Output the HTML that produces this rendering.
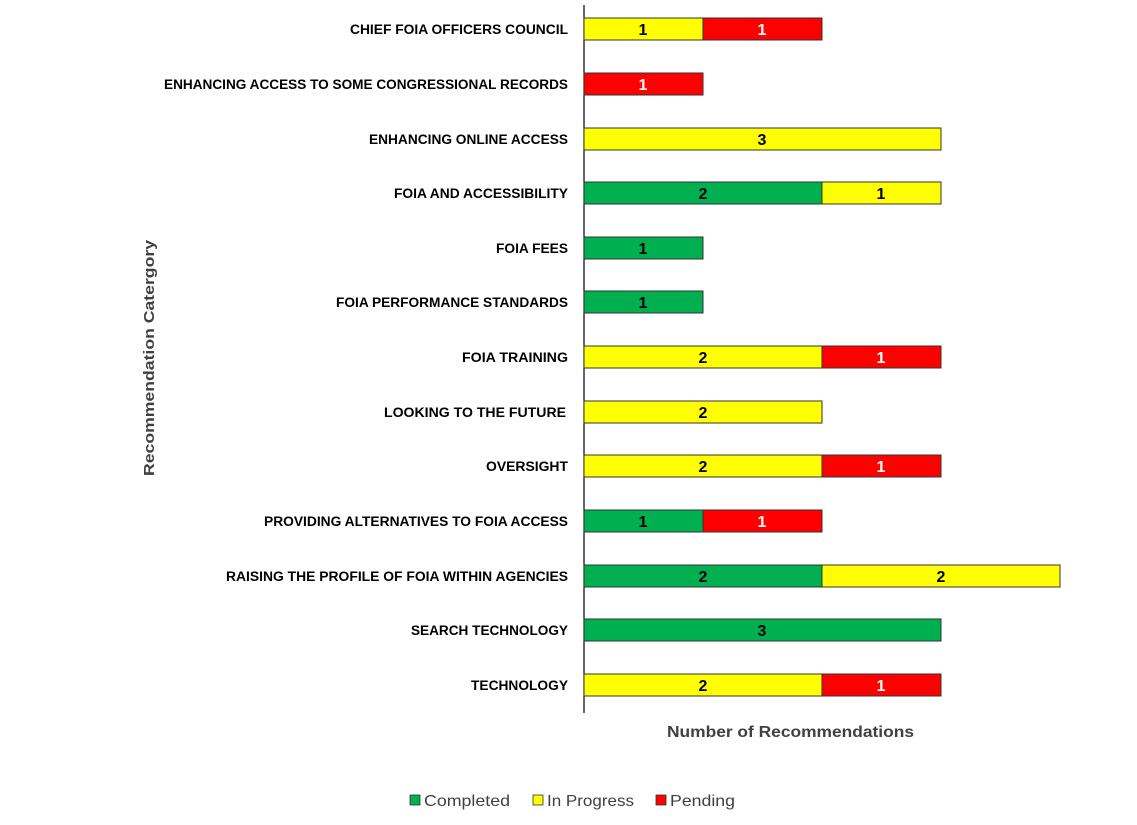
<!DOCTYPE html>
<html><head><meta charset="utf-8"><style>
html,body{margin:0;padding:0;background:#fff;}
svg{display:block;font-family:"Liberation Sans",sans-serif;}
.l{font-weight:bold;font-size:13.5px;fill:#000;}
.v{font-weight:bold;font-size:16px;}
</style></head><body>
<svg width="1137" height="825" viewBox="0 0 1137 825">
<line x1="584" y1="5" x2="584" y2="713" stroke="#000" stroke-width="1.2"/>
<g stroke="#333" stroke-width="1">
<!-- rows: y center -->
<rect x="584" y="18" width="119" height="22" fill="#FFFF00"/><rect x="703" y="18" width="119" height="22" fill="#FF0000"/>
<rect x="584" y="73" width="119" height="22" fill="#FF0000"/>
<rect x="584" y="128" width="357" height="22" fill="#FFFF00"/>
<rect x="584" y="182" width="238" height="22" fill="#00B050"/><rect x="822" y="182" width="119" height="22" fill="#FFFF00"/>
<rect x="584" y="237" width="119" height="22" fill="#00B050"/>
<rect x="584" y="291" width="119" height="22" fill="#00B050"/>
<rect x="584" y="346" width="238" height="22" fill="#FFFF00"/><rect x="822" y="346" width="119" height="22" fill="#FF0000"/>
<rect x="584" y="401" width="238" height="22" fill="#FFFF00"/>
<rect x="584" y="455" width="238" height="22" fill="#FFFF00"/><rect x="822" y="455" width="119" height="22" fill="#FF0000"/>
<rect x="584" y="510" width="119" height="22" fill="#00B050"/><rect x="703" y="510" width="119" height="22" fill="#FF0000"/>
<rect x="584" y="565" width="238" height="22" fill="#00B050"/><rect x="822" y="565" width="238" height="22" fill="#FFFF00"/>
<rect x="584" y="619" width="357" height="22" fill="#00B050"/>
<rect x="584" y="674" width="238" height="22" fill="#FFFF00"/><rect x="822" y="674" width="119" height="22" fill="#FF0000"/>
</g>
<g class="v" text-anchor="middle">
<text x="643" y="35">1</text><text x="762" y="35" fill="#fff">1</text>
<text x="643" y="90" fill="#fff">1</text>
<text x="762" y="145">3</text>
<text x="703" y="199">2</text><text x="881" y="199">1</text>
<text x="643" y="254">1</text>
<text x="643" y="308">1</text>
<text x="703" y="363">2</text><text x="881" y="363" fill="#fff">1</text>
<text x="703" y="418">2</text>
<text x="703" y="472">2</text><text x="881" y="472" fill="#fff">1</text>
<text x="643" y="527">1</text><text x="762" y="527" fill="#fff">1</text>
<text x="703" y="582">2</text><text x="941" y="582">2</text>
<text x="762" y="636">3</text>
<text x="703" y="691">2</text><text x="881" y="691" fill="#fff">1</text>
</g>
<g class="l" lengthAdjust="spacingAndGlyphs">
<text x="350" y="34" textLength="218" lengthAdjust="spacingAndGlyphs">CHIEF FOIA OFFICERS COUNCIL</text>
<text x="164" y="89" textLength="404" lengthAdjust="spacingAndGlyphs">ENHANCING ACCESS TO SOME CONGRESSIONAL RECORDS</text>
<text x="369" y="144" textLength="199" lengthAdjust="spacingAndGlyphs">ENHANCING ONLINE ACCESS</text>
<text x="394" y="198" textLength="174" lengthAdjust="spacingAndGlyphs">FOIA AND ACCESSIBILITY</text>
<text x="496" y="253" textLength="72" lengthAdjust="spacingAndGlyphs">FOIA FEES</text>
<text x="336" y="307" textLength="232" lengthAdjust="spacingAndGlyphs">FOIA PERFORMANCE STANDARDS</text>
<text x="462" y="362" textLength="106" lengthAdjust="spacingAndGlyphs">FOIA TRAINING</text>
<text x="384" y="417" textLength="182" lengthAdjust="spacingAndGlyphs">LOOKING TO THE FUTURE</text>
<text x="486" y="471" textLength="82" lengthAdjust="spacingAndGlyphs">OVERSIGHT</text>
<text x="264" y="526" textLength="304" lengthAdjust="spacingAndGlyphs">PROVIDING ALTERNATIVES TO FOIA ACCESS</text>
<text x="226" y="581" textLength="342" lengthAdjust="spacingAndGlyphs">RAISING THE PROFILE OF FOIA WITHIN AGENCIES</text>
<text x="411" y="635" textLength="157" lengthAdjust="spacingAndGlyphs">SEARCH TECHNOLOGY</text>
<text x="471" y="690" textLength="97" lengthAdjust="spacingAndGlyphs">TECHNOLOGY</text>
</g>
<text transform="translate(154,476) rotate(-90)" font-weight="bold" font-size="15" fill="#404040" textLength="236" lengthAdjust="spacingAndGlyphs">Recommendation Catergory</text>
<text x="667" y="737" font-weight="bold" font-size="16" fill="#404040" textLength="247" lengthAdjust="spacingAndGlyphs">Number of Recommendations</text>
<g font-size="16" fill="#404040">
<rect x="410" y="795" width="10" height="10" fill="#00B050" stroke="#333" stroke-width="0.8"/>
<text x="424" y="806" textLength="86" lengthAdjust="spacingAndGlyphs">Completed</text>
<rect x="533" y="795" width="10" height="10" fill="#FFFF00" stroke="#333" stroke-width="0.8"/>
<text x="547" y="806" textLength="87" lengthAdjust="spacingAndGlyphs">In Progress</text>
<rect x="656" y="795" width="10" height="10" fill="#FF0000" stroke="#333" stroke-width="0.8"/>
<text x="670" y="806" textLength="65" lengthAdjust="spacingAndGlyphs">Pending</text>
</g>
</svg>
</body></html>
